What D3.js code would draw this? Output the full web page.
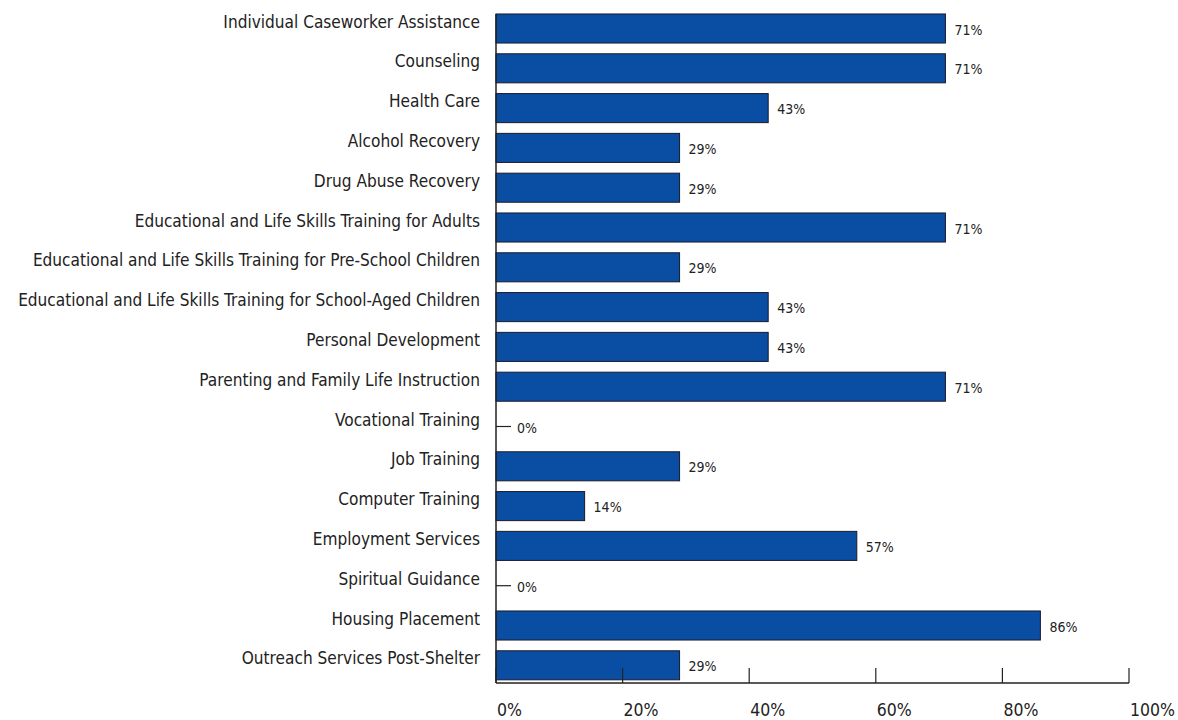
<!DOCTYPE html>
<html>
<head>
<meta charset="utf-8">
<script src="https://cdn.jsdelivr.net/npm/d3@7"></script>
<style>
  body { margin: 0; background: #fff; }
  text { font-family: "DejaVu Sans Condensed", "Liberation Sans Narrow", "Roboto", sans-serif; fill: #222; }
</style>
</head>
<body>
<div id="chart"></div>
<script>
//Data
var categories = [
    "Individual Caseworker Assistance",
    "Counseling",
    "Health Care",
    "Alcohol Recovery",
    "Drug Abuse Recovery",
    "Educational and Life Skills Training for Adults",
    "Educational and Life Skills Training for Pre-School Children",
    "Educational and Life Skills Training for School-Aged Children",
    "Personal Development",
    "Parenting and Family Life Instruction",
    "Vocational Training",
    "Job Training",
    "Computer Training",
    "Employment Services",
    "Spiritual Guidance",
    "Housing Placement",
    "Outreach Services Post-Shelter"
];
var values = [71, 71, 43, 29, 29, 71, 29, 43, 43, 71, 0, 29, 14, 57, 0, 86, 29];
var xTicks = [0, 20, 40, 60, 80, 100];

//Setup
var width = 1178, height = 720;
var plotLeft = 496, plotRight = 1129, plotTop = 14, axisY = 683;
var barColor = "#0a4ea3";

var svg = d3.select("#chart").append("svg")
    .attr("width", width)
    .attr("height", height);

var x = d3.scaleLinear().domain([0, 100]).range([plotLeft, plotRight]);
var y = d3.scaleBand().domain(categories)
    .range([plotTop - 5.4, plotTop - 5.4 + 39.8 * categories.length])
    .paddingInner(0.27).paddingOuter(0.135);

//Bars
var rows = categories.map((c, i) => ({ name: c, value: values[i] }));

svg.selectAll("rect.bar")
    .data(rows.filter(d => d.value > 0))
    .enter().append("rect")
    .attr("class", "bar")
    .attr("x", x(0))
    .attr("y", d => y(d.name))
    .attr("width", d => x(d.value) - x(0))
    .attr("height", y.bandwidth())
    .attr("fill", barColor)
    .attr("stroke", "#1a1a2a")
    .attr("stroke-width", 1);

//Zero dashes
svg.selectAll("line.zero")
    .data(rows.filter(d => d.value === 0))
    .enter().append("line")
    .attr("x1", x(0)).attr("x2", x(0) + 15)
    .attr("y1", d => y(d.name) + y.bandwidth() / 2)
    .attr("y2", d => y(d.name) + y.bandwidth() / 2)
    .attr("stroke", "#222").attr("stroke-width", 1.2);

//Value labels
svg.selectAll("text.val")
    .data(rows)
    .enter().append("text")
    .attr("x", d => d.value === 0 ? x(0) + 21 : x(d.value) + 9)
    .attr("y", d => y(d.name) + y.bandwidth() / 2 + 6)
    .attr("font-size", 14)
    .text(d => d.value + "%");

//Category labels
svg.selectAll("text.cat")
    .data(rows)
    .enter().append("text")
    .attr("x", 480)
    .attr("y", d => y(d.name) + y.bandwidth() / 2 - 1)
    .attr("text-anchor", "end")
    .attr("font-size", 17.1)
    .text(d => d.name);

//Axes
svg.append("line")
    .attr("x1", x(0)).attr("x2", x(0))
    .attr("y1", plotTop).attr("y2", axisY)
    .attr("stroke", "#222").attr("stroke-width", 1.5);

svg.append("line")
    .attr("x1", x(0)).attr("x2", x(100))
    .attr("y1", axisY).attr("y2", axisY)
    .attr("stroke", "#222").attr("stroke-width", 1.5);

svg.selectAll("line.tick")
    .data(xTicks)
    .enter().append("line")
    .attr("x1", d => x(d)).attr("x2", d => x(d))
    .attr("y1", axisY - 15).attr("y2", axisY)
    .attr("stroke", "#222").attr("stroke-width", 1.2);

svg.selectAll("text.tick")
    .data(xTicks)
    .enter().append("text")
    .attr("x", d => x(d) + 1)
    .attr("y", 716)
    .attr("text-anchor", "start")
    .attr("font-size", 17.5)
    .text(d => d + "%");
</script>
</body>
</html>
